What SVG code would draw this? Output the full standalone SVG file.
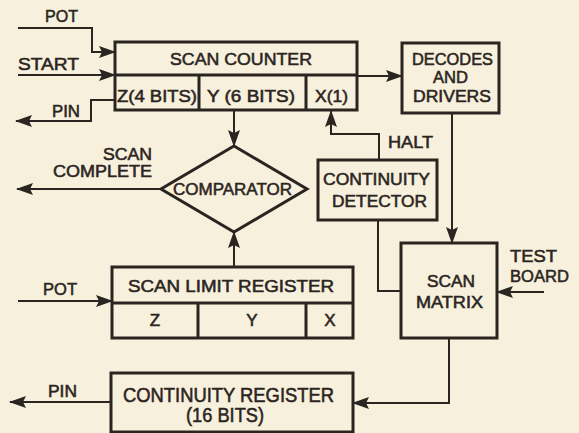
<svg xmlns="http://www.w3.org/2000/svg" width="579" height="433" viewBox="0 0 579 433">
<defs>
<style>
.box{fill:none;stroke:#2b2522;stroke-width:3;stroke-linejoin:miter}
.ln{fill:none;stroke:#2b2522;stroke-width:2}
.arr{marker-end:url(#ah)}
text{font-family:"Liberation Sans",Arial,sans-serif;font-size:17px;fill:#2b2522;stroke:#2b2522;stroke-width:0.55}
.c{text-anchor:middle}
.big{font-size:20px}
</style>
<marker id="ah" viewBox="0 0 17 12" refX="16" refY="6" markerWidth="17" markerHeight="12" markerUnits="userSpaceOnUse" orient="auto">
<path d="M0,0 L17,6 L0,12 L3,6 z" fill="#2b2522"/>
</marker>
</defs>
<rect width="579" height="433" fill="#f7f0dc"/>

<g id="scan-counter">
<rect class="box" x="115" y="42" width="242" height="68"/>
<path class="box" d="M115,75 H357 M199,75 V110 M306,75 V110"/>
<text x="170" y="65" textLength="142" lengthAdjust="spacingAndGlyphs">SCAN COUNTER</text>
<text x="117" y="102" textLength="80" lengthAdjust="spacingAndGlyphs">Z(4 BITS)</text>
<text x="207" y="102" textLength="88" lengthAdjust="spacingAndGlyphs">Y (6 BITS)</text>
<text x="315" y="102" textLength="33" lengthAdjust="spacingAndGlyphs">X(1)</text>
</g>

<g id="decodes-drivers">
<rect class="box" x="402" y="43" width="97" height="70"/>
<text x="412" y="65" textLength="81" lengthAdjust="spacingAndGlyphs">DECODES</text>
<text x="433" y="83" textLength="35" lengthAdjust="spacingAndGlyphs">AND</text>
<text x="413" y="102" textLength="78" lengthAdjust="spacingAndGlyphs">DRIVERS</text>
</g>

<g id="comparator">
<path class="box" d="M234,146 L307,189 L234,232 L161,189 Z"/>
<text x="173" y="195" textLength="119" lengthAdjust="spacingAndGlyphs">COMPARATOR</text>
</g>

<g id="continuity-detector">
<rect class="box" x="318" y="160" width="119" height="60"/>
<text x="323" y="185" textLength="107" lengthAdjust="spacingAndGlyphs">CONTINUITY</text>
<text x="332" y="207" textLength="95" lengthAdjust="spacingAndGlyphs">DETECTOR</text>
</g>

<g id="scan-matrix">
<rect class="box" x="401" y="243" width="96" height="95"/>
<text x="427" y="287" textLength="48" lengthAdjust="spacingAndGlyphs">SCAN</text>
<text x="416" y="308" textLength="67" lengthAdjust="spacingAndGlyphs">MATRIX</text>
</g>

<g id="scan-limit-register">
<rect class="box" x="112" y="267" width="241" height="71"/>
<path class="box" d="M112,303 H353 M198,303 V338 M306,303 V338"/>
<text x="128" y="292" textLength="206" lengthAdjust="spacingAndGlyphs">SCAN LIMIT REGISTER</text>
<text class="c" x="155" y="326">Z</text>
<text class="c" x="252" y="326">Y</text>
<text class="c" x="330" y="326">X</text>
</g>

<g id="continuity-register">
<rect class="box" x="111" y="373" width="242" height="59"/>
<text class="big" x="123" y="402" textLength="211" lengthAdjust="spacingAndGlyphs">CONTINUITY REGISTER</text>
<text class="big" x="186" y="422" textLength="78" lengthAdjust="spacingAndGlyphs">(16 BITS)</text>
</g>

<g id="labels">
<text x="45" y="22" textLength="33" lengthAdjust="spacingAndGlyphs">POT</text>
<text x="18" y="70" textLength="61" lengthAdjust="spacingAndGlyphs">START</text>
<text x="52" y="117" textLength="28" lengthAdjust="spacingAndGlyphs">PIN</text>
<text x="388" y="148" textLength="45" lengthAdjust="spacingAndGlyphs">HALT</text>
<text x="103" y="160" textLength="49" lengthAdjust="spacingAndGlyphs">SCAN</text>
<text x="53" y="177" textLength="99" lengthAdjust="spacingAndGlyphs">COMPLETE</text>
<text x="510" y="262" textLength="47" lengthAdjust="spacingAndGlyphs">TEST</text>
<text x="510" y="282" textLength="59" lengthAdjust="spacingAndGlyphs">BOARD</text>
<text x="43" y="295" textLength="34" lengthAdjust="spacingAndGlyphs">POT</text>
<text x="48" y="397" textLength="29" lengthAdjust="spacingAndGlyphs">PIN</text>
</g>

<g id="connectors">
<path class="ln arr" d="M18,28 H92 V52 H115"/>
<path class="ln arr" d="M18,75 H115"/>
<path class="ln arr" d="M115,100 H91 V121 H16"/>
<path class="ln arr" d="M357,76 H402"/>
<path class="ln arr" d="M234,111 V146"/>
<path class="ln arr" d="M379,160 V134 H331 V111"/>
<path class="ln arr" d="M452,113 V243"/>
<path class="ln" d="M378,220 V291 H401"/>
<path class="ln arr" d="M544,292 H497"/>
<path class="ln arr" d="M449,338 V403 H353"/>
<path class="ln arr" d="M111,402 H10"/>
<path class="ln arr" d="M161,189 H17"/>
<path class="ln arr" d="M234,267 V232"/>
<path class="ln arr" d="M18,301 H112"/>
</g>
</svg>
